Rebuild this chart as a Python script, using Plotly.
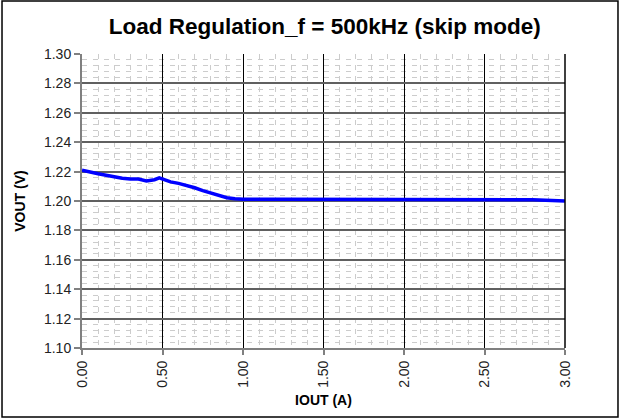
import plotly.graph_objects as go

iout = [0.00, 0.05, 0.10, 0.15, 0.20, 0.25, 0.30, 0.35, 0.40, 0.45, 0.48, 0.55, 0.60, 0.65,
        0.70, 0.75, 0.80, 0.85, 0.90, 0.95, 1.00, 1.25, 1.50, 1.75, 2.00, 2.25, 2.50, 2.80, 3.00]
vout = [1.2210, 1.2195, 1.2185, 1.2175, 1.2163, 1.2155, 1.2150, 1.2149, 1.2137, 1.2145, 1.2158,
        1.2130, 1.2120, 1.2108, 1.2090, 1.2070, 1.2055, 1.2035, 1.2022, 1.2015, 1.2012, 1.2012,
        1.2012, 1.2012, 1.2012, 1.2011, 1.2010, 1.2008, 1.2000]

x_ticks = [0.0, 0.5, 1.0, 1.5, 2.0, 2.5, 3.0]
x_tick_labels = ["0.00", "0.50", "1.00", "1.50", "2.00", "2.50", "3.00"]
y_ticks = [1.10, 1.12, 1.14, 1.16, 1.18, 1.20, 1.22, 1.24, 1.26, 1.28, 1.30]
y_tick_labels = ["1.10", "1.12", "1.14", "1.16", "1.18", "1.20", "1.22", "1.24", "1.26", "1.28", "1.30"]

title_text = "Load Regulation_f = 500kHz (skip mode)"
x_title = "IOUT (A)"
y_title = "VOUT (V)"

FONT = "Liberation Sans, Arial, sans-serif"

fig = go.Figure()
fig.add_trace(go.Scatter(x=iout, y=vout, mode="lines",
                         line=dict(color="#0000FF", width=3.5), showlegend=False))

fig.update_layout(
    width=621, height=419,
    margin=dict(l=82, r=56, t=54, b=71),
    paper_bgcolor="white", plot_bgcolor="white",
    font=dict(family=FONT, color="black", size=14),
    title=dict(text="<b>" + title_text + "</b>", x=0.523, xref="container", xanchor="center",
               y=0.938, yref="container", yanchor="middle",
               font=dict(size=22.5, family=FONT, color="black")),
)

fig.update_xaxes(
    range=[0, 3], tickvals=x_ticks, ticktext=x_tick_labels, tickangle=-90,
    showline=True, linecolor="#808080", linewidth=2,
    ticks="outside", ticklen=5, tickcolor="#808080", tickwidth=2,
    showgrid=True, gridcolor="#000000", gridwidth=1,
    zeroline=False,
    minor=dict(dtick=0.1, showgrid=True, gridcolor="#cccccc", griddash="5px,6px", gridwidth=1),
    title=dict(text="<b>" + x_title + "</b>", font=dict(size=14, family=FONT), standoff=8),
    tickfont=dict(size=14, color="#222"),
)
fig.update_yaxes(
    range=[1.10, 1.30], tickvals=y_ticks, ticktext=y_tick_labels,
    showline=True, linecolor="#808080", linewidth=2,
    ticks="outside", ticklen=6, tickcolor="#808080", tickwidth=2,
    showgrid=True, gridcolor="#606060", gridwidth=1.5,
    zeroline=False,
    minor=dict(dtick=0.004, showgrid=True, gridcolor="#cccccc", griddash="5px,6px", gridwidth=1),
    title=dict(text="<b>" + y_title + "</b>", font=dict(size=14, family=FONT), standoff=15),
    tickfont=dict(size=14, color="#222"),
)

# right border line of plot area (black) and outer chart border
fig.add_shape(type="line", xref="paper", yref="paper", x0=1, x1=1, y0=0, y1=1,
              line=dict(color="black", width=1.5))
fig.add_shape(type="rect", xref="paper", yref="paper",
              x0=-0.1656, x1=1.1097, y0=-0.2347, y1=1.180,
              line=dict(color="black", width=1.5), layer="above")

fig.write_html("out.html", config={"displayModeBar": False},
               post_script="document.body.style.margin='0';document.body.style.overflow='hidden';")
